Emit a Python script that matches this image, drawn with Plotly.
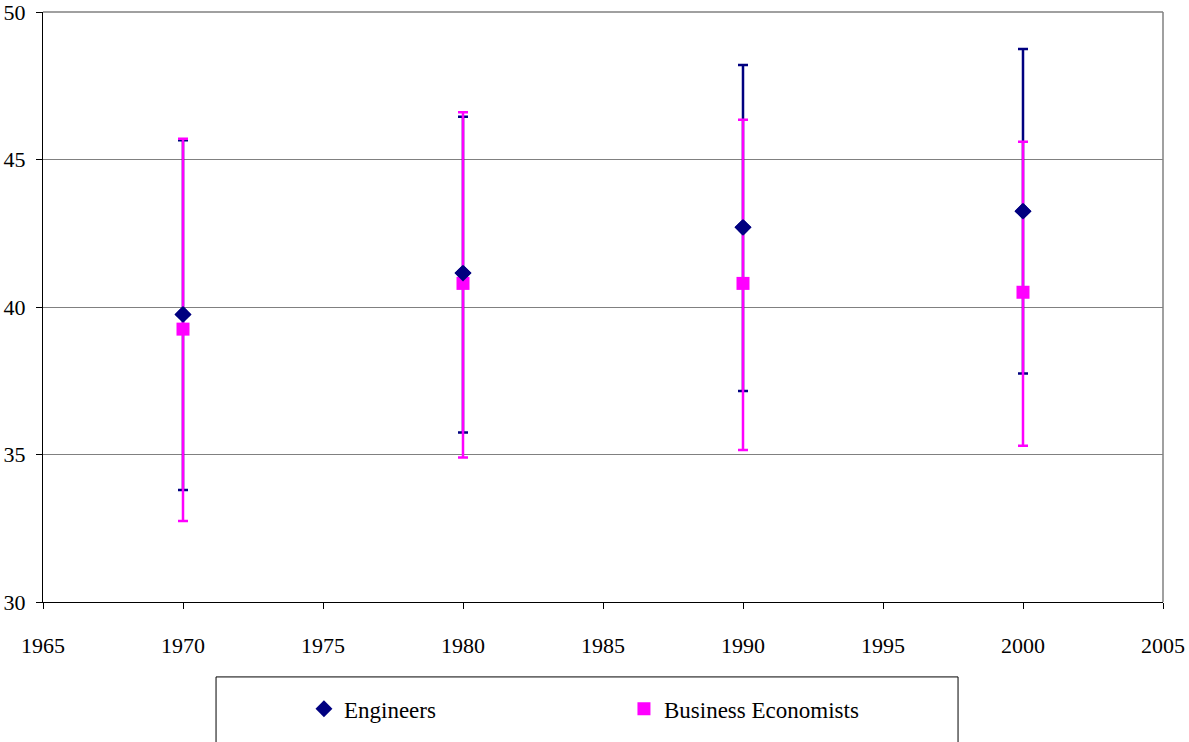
import plotly.graph_objects as go

# Survey years and mean values with upper/lower bounds of the error bars
years = [1970, 1980, 1990, 2000]

eng_mean = [39.75, 41.15, 42.7, 43.25]
eng_upper = [45.65, 46.45, 48.2, 48.75]
eng_lower = [33.8, 35.75, 37.15, 37.75]

bus_mean = [39.25, 40.8, 40.8, 40.5]
bus_upper = [45.7, 46.6, 46.35, 45.6]
bus_lower = [32.75, 34.9, 35.15, 35.3]

x_ticks = [1965, 1970, 1975, 1980, 1985, 1990, 1995, 2000, 2005]
y_ticks = [30, 35, 40, 45, 50]

NAVY = "#000080"
MAGENTA = "#FF00FF"
FONT = "Liberation Serif, Times New Roman, Times, serif"


def err(mean, upper, lower, color):
    return dict(
        type="data",
        symmetric=False,
        array=[u - m for u, m in zip(upper, mean)],
        arrayminus=[m - l for m, l in zip(mean, lower)],
        color=color,
        thickness=2.5,
        width=5,
    )


fig = go.Figure()

fig.add_trace(go.Scatter(
    x=years, y=eng_mean, mode="markers", name="Engineers",
    marker=dict(symbol="diamond", size=13, color=NAVY),
    error_y=err(eng_mean, eng_upper, eng_lower, NAVY),
))
fig.add_trace(go.Scatter(
    x=years, y=bus_mean, mode="markers", name="Business Economists",
    marker=dict(symbol="square", size=13, color=MAGENTA),
    error_y=err(bus_mean, bus_upper, bus_lower, MAGENTA),
))
# Engineers markers redrawn above the magenta bars
fig.add_trace(go.Scatter(
    x=years, y=eng_mean, mode="markers", showlegend=False, hoverinfo="skip",
    marker=dict(symbol="diamond", size=13, color=NAVY),
))

fig.update_layout(
    width=1189, height=742,
    margin=dict(l=43, r=26, t=12, b=131),
    paper_bgcolor="white", plot_bgcolor="white",
    font=dict(family=FONT, size=22, color="black"),
    showlegend=True,
    legend=dict(
        orientation="h",
        x=0.233, xanchor="left",
        y=-0.181, yanchor="middle",
        entrywidth=275, entrywidthmode="pixels",
        font=dict(family=FONT, size=23, color="black"),
        bgcolor="rgba(0,0,0,0)",
        itemclick=False,
    ),
    xaxis=dict(
        range=[1965, 2005], tickvals=x_ticks,
        ticks="outside", ticklen=6, tickcolor="black", tickwidth=1,
        showline=True, linecolor="black", linewidth=1,
        showgrid=False, zeroline=False,
        ticklabelstandoff=18,
        automargin=False,
    ),
    yaxis=dict(
        range=[30, 50], tickvals=y_ticks,
        ticks="outside", ticklen=6, tickcolor="black", tickwidth=1,
        showline=True, linecolor="black", linewidth=1,
        showgrid=True, gridcolor="#808080", gridwidth=1,
        zeroline=False,
        ticklabelstandoff=6,
        ticklabeloverflow="allow",
        automargin=False,
    ),
    shapes=[
        # grey frame on the top and right of the plot area
        dict(type="line", xref="paper", yref="paper", x0=0, x1=1, y0=1, y1=1,
             line=dict(color="#808080", width=1.5)),
        dict(type="line", xref="paper", yref="paper", x0=1, x1=1, y0=0, y1=1,
             line=dict(color="#808080", width=1.5)),
        # legend box, running off the bottom edge
        dict(type="rect", xref="paper", yref="paper",
             x0=0.1545, x1=0.817, y0=-0.26, y1=-0.127,
             line=dict(color="black", width=1), fillcolor="rgba(0,0,0,0)"),
    ],
)

fig.write_html("out.html")
